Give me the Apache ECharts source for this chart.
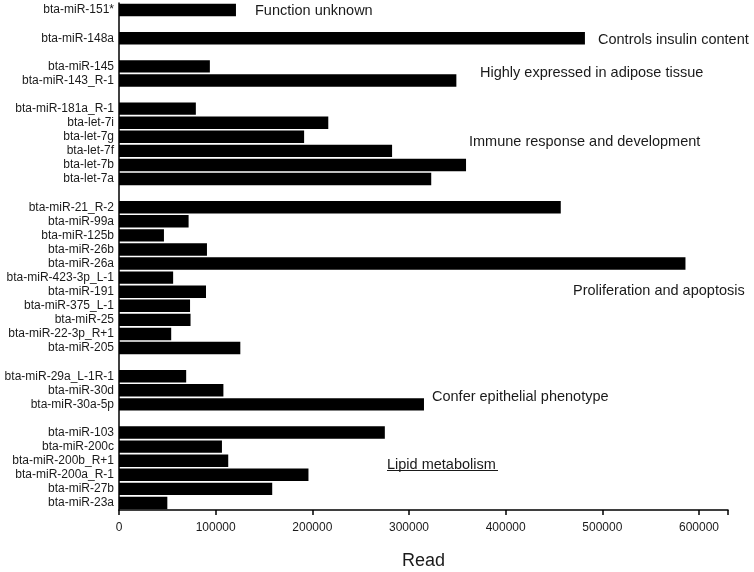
<!DOCTYPE html>
<html>
<head>
<meta charset="utf-8">
<script src="https://cdn.jsdelivr.net/npm/echarts@6/dist/echarts.min.js"></script>
<style>html,body{margin:0;padding:0;background:#fff}#c{width:754px;height:572px}</style>
</head>
<body>
<div id="c"></div>
<script>
// Categories top-to-bottom; '' marks a spacer between groups
const categories = [
  'bta-miR-151*', '',
  'bta-miR-148a', '',
  'bta-miR-145', 'bta-miR-143_R-1', '',
  'bta-miR-181a_R-1', 'bta-let-7i', 'bta-let-7g', 'bta-let-7f', 'bta-let-7b', 'bta-let-7a', '',
  'bta-miR-21_R-2', 'bta-miR-99a', 'bta-miR-125b', 'bta-miR-26b', 'bta-miR-26a', 'bta-miR-423-3p_L-1',
  'bta-miR-191', 'bta-miR-375_L-1', 'bta-miR-25', 'bta-miR-22-3p_R+1', 'bta-miR-205', '',
  'bta-miR-29a_L-1R-1', 'bta-miR-30d', 'bta-miR-30a-5p', '',
  'bta-miR-103', 'bta-miR-200c', 'bta-miR-200b_R+1', 'bta-miR-200a_R-1', 'bta-miR-27b', 'bta-miR-23a'
];
const reads = [
  121000, null,
  482000, null,
  94000, 349000, null,
  79500, 216500, 191500, 282500, 359000, 323000, null,
  457000, 72000, 46500, 91000, 586000, 56000,
  90000, 73500, 74000, 54000, 125500, null,
  69500, 108000, 315500, null,
  275000, 106500, 113000, 196000, 158500, 50000
];
const xTicks = [0, 100000, 200000, 300000, 400000, 500000, 600000];
const groupNotes = [
  'Function unknown', 'Controls insulin content', 'Highly expressed in adipose tissue',
  'Immune response and development', 'Proliferation and apoptosis',
  'Confer epithelial phenotype', 'Lipid metabolism'
];
const notePos = [[255,10],[598,39],[480,72],[469,141],[573,290],[432,396],[387,464]];

const chart = echarts.init(document.getElementById('c'), null, {renderer: 'canvas'});
const font = 'Liberation Sans, Arial, sans-serif';
const graphics = groupNotes.map((t, i) => ({
  type: 'text', left: notePos[i][0], top: notePos[i][1] - 7,
  style: {text: t, font: '14.5px ' + font, fill: '#1a1a1a'}
}));
graphics.push({type: 'line', shape: {x1: 387, y1: 470.5, x2: 498, y2: 470.5}, style: {stroke: '#1a1a1a', lineWidth: 1}});

chart.setOption({
  animation: false,
  backgroundColor: '#fff',
  grid: {left: 119, right: 26, top: 3, bottom: 62, containLabel: false, outerBoundsMode: 'none'},
  xAxis: {
    type: 'value', min: 0, max: 630000, interval: 100000,
    name: 'Read', nameLocation: 'middle', nameGap: 42,
    nameTextStyle: {fontFamily: font, fontSize: 18, color: '#1a1a1a'},
    axisLine: {show: true, lineStyle: {color: '#000', width: 1.5}},
    axisTick: {show: true, length: 5, lineStyle: {color: '#000', width: 1.5}},
    axisLabel: {fontFamily: font, fontSize: 12, color: '#1a1a1a', margin: 12,
      formatter: v => xTicks.includes(v) ? String(v) : ''},
    splitLine: {show: false}
  },
  yAxis: {
    type: 'category', data: categories, inverse: true,
    axisLine: {show: true, lineStyle: {color: '#000', width: 1.5}},
    axisTick: {show: false},
    axisLabel: {fontFamily: font, fontSize: 12, color: '#1a1a1a', margin: 5, interval: 0}
  },
  graphic: graphics,
  series: [{
    type: 'bar', data: reads, barCategoryGap: '12%',
    itemStyle: {color: '#000'}
  }]
});
</script>
</body>
</html>
